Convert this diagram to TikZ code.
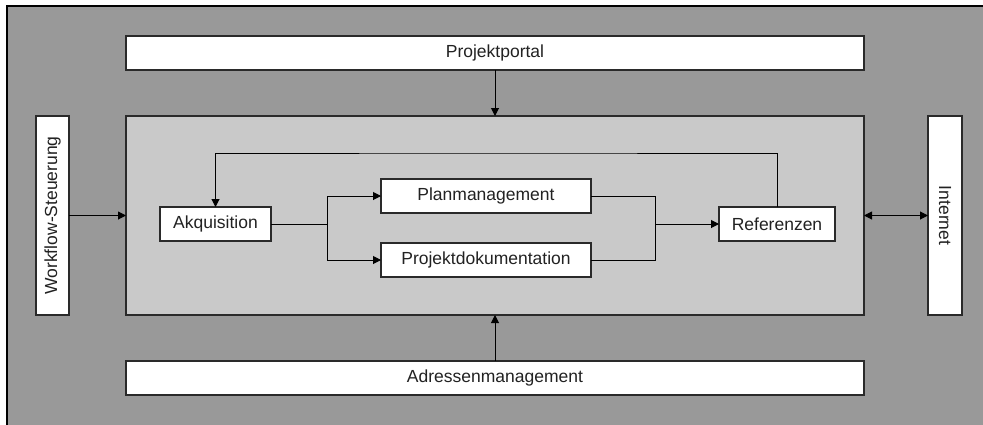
\documentclass[tikz,border=0pt]{standalone}
\usepackage{fontspec}
\setmainfont{Liberation Sans}
\usetikzlibrary{arrows.meta}
\definecolor{outergray}{HTML}{999999}
\definecolor{innergray}{HTML}{C9C9C9}
\definecolor{edgecol}{HTML}{2A2A2A}
\definecolor{txtcol}{HTML}{222222}
\tikzset{
  boxnode/.style={draw=edgecol, line width=1.2pt, fill=white, inner sep=0pt, outer sep=0pt,
    text=txtcol, font=\fontsize{17.5}{20}\selectfont},
  arr/.style={draw=black, line width=1pt, -{Triangle[length=8pt,width=8pt]}},
  darr/.style={draw=black, line width=1pt, {Triangle[length=8pt,width=8pt]}-{Triangle[length=8pt,width=8pt]}},
  conn/.style={draw=black, line width=1pt},
}
\begin{document}
\begin{tikzpicture}[x=1pt,y=-1pt]
\useasboundingbox (0,0) rectangle (983,424);
\clip (0,0) rectangle (983,424);
\fill[white] (0,0) rectangle (983,424);
\draw[draw=black, line width=1.5pt, fill=outergray] (7,6) rectangle (1000,440);

\node[boxnode, minimum width=738pt, minimum height=34pt] (portal) at (495,53) {Projektportal};
\node[boxnode, fill=innergray, minimum width=738pt, minimum height=199pt] (inner) at (495,215.5) {};
\node[boxnode, minimum width=738pt, minimum height=34pt] (adr) at (495,378) {Adressenmanagement};
\node[boxnode, minimum width=199pt, minimum height=33pt, rotate=90] (wf) at (52.5,215.5) {Workflow-Steuerung};
\node[boxnode, minimum width=199pt, minimum height=34pt, rotate=-90] (inet) at (945,215.5) {Internet};

\node[boxnode, minimum width=111pt, minimum height=34pt] (akq) at (215.5,224) {Akquisition};
\node[boxnode, minimum width=116pt, minimum height=34pt] (ref) at (777,224) {Referenzen};
\node[boxnode, minimum width=210pt, minimum height=34pt] (plan) at (486,196) {Planmanagement};
\node[boxnode, minimum width=210pt, minimum height=34pt] (proj) at (486,260) {Projektdokumentation};

\coordinate (split) at (327,224);
\coordinate (merge) at (655,224);
\coordinate (fb) at (500,153);

\draw[arr] (portal.south) -- (inner.north);
\draw[arr] (adr.north) -- (inner.south);
\draw[arr] (wf.south) -- (inner.west);
\draw[darr] (inner.east) -- (inet.south);

\draw[conn] (akq.east) -- (split);
\draw[arr] (split) |- (plan.west);
\draw[arr] (split) |- (proj.west);
\draw[conn] (plan.east) -| (merge);
\draw[conn] (proj.east) -| (merge);
\draw[arr] (merge) -- (ref.west);
\draw[arr] (ref.north) |- (fb) -| (akq.north);
\end{tikzpicture}
\end{document}
